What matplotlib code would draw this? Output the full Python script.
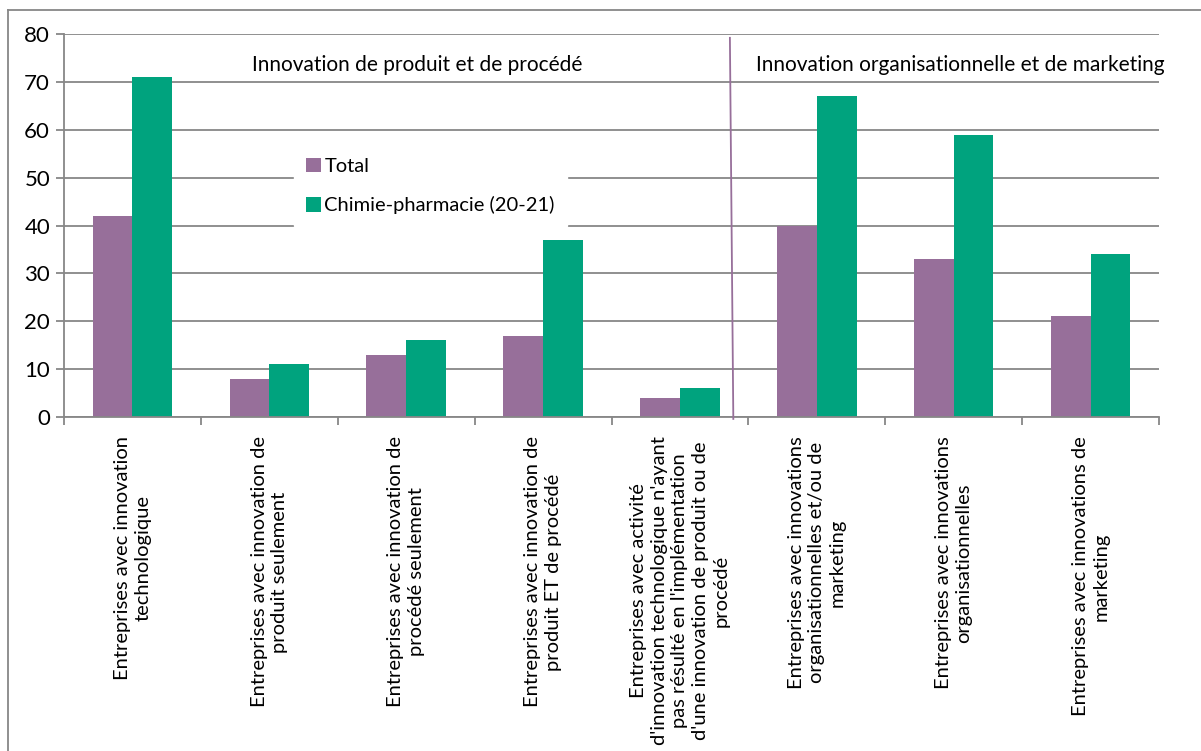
import numpy as np
import matplotlib
matplotlib.use("Agg")
from matplotlib import pyplot as plt
from matplotlib.lines import Line2D

plt.rcParams['font.family'] = ['Lato', 'DejaVu Sans']

# data
categories = [
    "Entreprises avec innovation\ntechnologique",
    "Entreprises avec innovation de\nproduit seulement",
    "Entreprises avec innovation de\nprocédé seulement",
    "Entreprises avec innovation de\nproduit ET de procédé",
    "Entreprises avec activité\nd'innovation technologique n'ayant\npas résulté en l'implémentation\nd'une innovation de produit ou de\nprocédé",
    "Entreprises avec innovations\norganisationnelles et/ou de\nmarketing",
    "Entreprises avec innovations\norganisationnelles",
    "Entreprises avec innovations de\nmarketing",
]
total = [42, 8, 13, 17, 4, 40, 33, 21]
chimie = [71, 11, 16, 37, 6, 67, 59, 34]
series_names = ["Total", "Chimie-pharmacie (20-21)"]
group_titles = ["Innovation de produit et de procédé",
                "Innovation organisationnelle et de marketing"]

purple = "#976f9a"
green = "#00a37e"
grid_col = "#878787"
fs = 14.5

fig = plt.figure(figsize=(12.01, 7.51), dpi=100)
ax = fig.add_axes([64/1201, 1-417/751, (1159-64)/1201, (417-34)/751])

x = np.arange(len(categories))
w = 0.29
ax.bar(x - w/2, total, w, color=purple, label=series_names[0], zorder=2)
ax.bar(x + w/2, chimie, w, color=green, label=series_names[1], zorder=2)

ax.set_xlim(-0.5, len(categories) - 0.5)
ax.set_ylim(0, 80)
ax.set_yticks(range(0, 81, 10))
ax.yaxis.grid(True, color=grid_col, linewidth=1.3, zorder=0)
ax.set_axisbelow(True)

# category boundaries carry the ticks, labels sit at centres
ax.set_xticks(np.arange(-0.5, len(categories)), minor=False)
ax.set_xticklabels([])
ax.set_xticks(x, minor=True)
ax.set_xticklabels(categories, minor=True, rotation=90, ha='center', va='top',
                   multialignment='center', fontsize=fs, linespacing=1.25)
ax.tick_params(axis='x', which='major', length=6, color=grid_col, width=1.3)
ax.tick_params(axis='x', which='minor', length=0, pad=14)
ax.tick_params(axis='y', length=6, color=grid_col, width=1.3, labelsize=16, pad=4)

for s in ['top', 'right']:
    ax.spines[s].set_visible(False)
for s in ['left', 'bottom']:
    ax.spines[s].set_color(grid_col)
    ax.spines[s].set_linewidth(1.3)

# separator between the two groups
ax.plot([4.365, 4.39], [79.2, -0.4], color=purple, linewidth=1.3, clip_on=False, zorder=3)

ax.text(2.08, 73.6, group_titles[0], ha='center', va='center', fontsize=15)
ax.text(6.05, 73.6, group_titles[1], ha='center', va='center', fontsize=15,
        clip_on=False)

leg = ax.legend(loc='upper left', bbox_to_anchor=(0.201, 0.735), fontsize=fs,
                frameon=True, fancybox=False, edgecolor='white', framealpha=1,
                handlelength=0.75, handleheight=0.75, handletextpad=0.15,
                labelspacing=1.05, borderpad=0.6)

# outer chart border (left and top)
fig.add_artist(Line2D([8/1201, 8/1201], [0, 1-10/751], color=grid_col, linewidth=1.3))
fig.add_artist(Line2D([8/1201, 1], [1-10/751, 1-10/751], color=grid_col, linewidth=1.3))

fig.savefig("out.png", dpi=100)
